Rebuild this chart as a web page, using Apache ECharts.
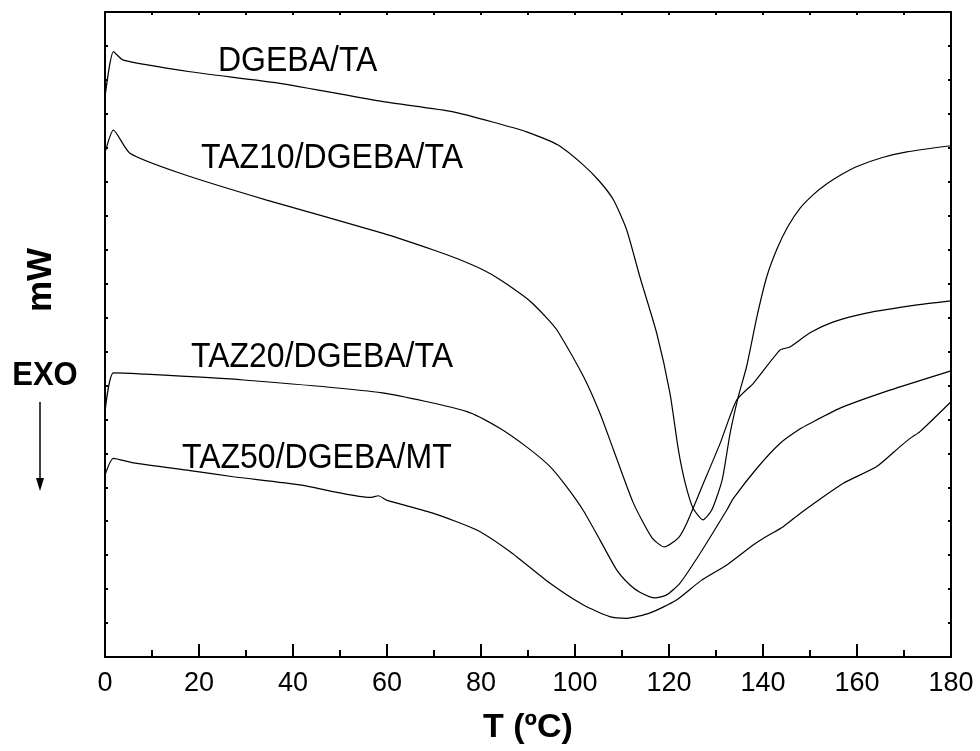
<!DOCTYPE html>
<html>
<head>
<meta charset="utf-8">
<script src="https://cdn.jsdelivr.net/npm/echarts@6/dist/echarts.min.js"></script>
<style>
  html, body { margin: 0; padding: 0; background: #fff; }
  #chartBox { width: 980px; height: 751px; }
</style>
</head>
<body>
<div id="chartBox"></div>
<script>
// DSC curves, [T (ºC), signal]
const dgebaTA = [
  [0, 16.49], [1.8, 17.83], [3.9, 17.58], [18.1, 17.24], [37.2, 16.90], [59.2, 16.36],
  [74.1, 16.06], [84, 15.70], [89.7, 15.47], [96.4, 15.08], [101.8, 14.49],
  [105.3, 14.00], [108.2, 13.46], [111, 12.58], [113.8, 11.20], [117.4, 9.53], [120.2, 7.77],
  [122, 6.10], [123.4, 5.15], [125.1, 4.39], [127.2, 4.04], [129.1, 4.33], [131.3, 5.21],
  [133, 6.59], [134.8, 7.70], [136.5, 8.55], [138.7, 10.02], [140.8, 11.20], [143.1, 12.06],
  [145.3, 12.68], [147.9, 13.22], [150.7, 13.62], [153.6, 13.94], [156.8, 14.22], [160, 14.45],
  [165.6, 14.72], [170.6, 14.88], [180, 15.06]
]
const taz10 = [
  [0, 14.85], [1.8, 15.52], [5.3, 14.84], [16, 14.25], [34.4, 13.46], [59.2, 12.48],
  [69.9, 11.99], [75, 11.73], [80.5, 11.40], [84, 11.12], [89, 10.64], [91.1, 10.40],
  [94.7, 9.88], [96.4, 9.58], [101.8, 8.26], [105.3, 7.18], [108.2, 6.10], [112.4, 4.54],
  [116.4, 3.51], [119, 3.24], [122, 3.51], [123.8, 3.95], [127, 5.01], [130.9, 6.30],
  [134.4, 7.57], [138, 8.07], [143.6, 9.04], [145.7, 9.13], [150, 9.55], [155, 9.87],
  [162, 10.13], [172.8, 10.37], [180, 10.49]
]
const taz20 = [
  [0, 7.22], [1.8, 8.37], [7.4, 8.34], [29.4, 8.16], [59, 7.78], [77, 7.23],
  [84, 6.74], [89.7, 6.19], [94.7, 5.61], [98.2, 5.02], [101.7, 4.33], [105.3, 3.45],
  [108.9, 2.56], [111.7, 2.12], [113.8, 1.91], [117, 1.74], [119.5, 1.83], [122.3, 2.17],
  [126.6, 3.05], [132.3, 4.33], [133.7, 4.67], [138.7, 5.56], [143.6, 6.29], [147.9, 6.72],
  [150, 6.88], [156.4, 7.33], [167, 7.86], [180, 8.43]
]
const taz50 = [
  [0, 5.36], [1.8, 5.85], [6, 5.72], [18.1, 5.49], [27.3, 5.31], [41.5, 5.07],
  [56.4, 4.70], [58.2, 4.75], [59.9, 4.62], [69.9, 4.23], [79.1, 3.74], [86.2, 3.10],
  [94.7, 2.17], [101.8, 1.53], [107.4, 1.19], [111, 1.14], [116, 1.30], [121.6, 1.68],
  [126.8, 2.25], [132.3, 2.71], [137.9, 3.30], [140.1, 3.50], [144.3, 3.84], [147.9, 4.23],
  [152.1, 4.65], [157.1, 5.12], [164.2, 5.61], [169.1, 6.19], [171.3, 6.44], [173.4, 6.64],
  [180, 7.52]
]
const seriesNames = ['DGEBA/TA', 'TAZ10/DGEBA/TA', 'TAZ20/DGEBA/TA', 'TAZ50/DGEBA/MT']
const seriesData = [dgebaTA, taz10, taz20, taz50]

const font = '"Liberation Sans", Arial, sans-serif'
const frame = { show: true, onZero: false, lineStyle: { color: '#000', width: 2 } }
// where each curve name sits (left edge, vertical centre)
const labelPos = [[218, 61], [201, 158], [191, 357], [182, 458]]

let myChart = echarts.init(document.getElementById('chartBox'))
myChart.setOption({
  animation: false,
  grid: { left: 105, right: 29, top: 12, bottom: 94 },
  xAxis: [
    {
      type: 'value',
      min: 0,
      max: 180,
      interval: 20,
      axisLine: frame,
      axisTick: { inside: true, length: 13, lineStyle: { color: '#000', width: 2 } },
      minorTick: { show: true, splitNumber: 2, length: 7, lineStyle: { color: '#000', width: 2 } },
      splitLine: { show: false },
      axisLabel: { color: '#000', fontSize: 27, fontFamily: font, margin: 13 },
      name: 'T (ºC)',
      nameLocation: 'middle',
      nameGap: 54,
      nameTextStyle: { color: '#000', fontSize: 34, fontWeight: 'bold', fontFamily: font }
    },
    {
      type: 'value',
      position: 'top',
      min: 0,
      max: 180,
      interval: 10,
      axisLine: frame,
      axisTick: { inside: true, length: 3, lineStyle: { color: '#000', width: 2 } },
      axisLabel: { show: false },
      splitLine: { show: false }
    }
  ],
  yAxis: [
    {
      type: 'value',
      min: 0,
      max: 19,
      interval: 1,
      axisLine: frame,
      axisTick: { inside: true, length: 3, lineStyle: { color: '#000', width: 2 } },
      axisLabel: { show: false },
      splitLine: { show: false }
    },
    {
      type: 'value',
      position: 'right',
      min: 0,
      max: 19,
      interval: 1,
      axisLine: frame,
      axisTick: { inside: true, length: 3, lineStyle: { color: '#000', width: 2 } },
      axisLabel: { show: false },
      splitLine: { show: false }
    }
  ],
  graphic: seriesNames.map((name, i) => ({
    type: 'text',
    x: labelPos[i][0],
    y: labelPos[i][1],
    scaleY: 1.08,
    style: { text: name, fontSize: 32, fontFamily: font, fill: '#000', verticalAlign: 'middle' }
  })).concat([
    {
      type: 'text', x: 41, y: 280, rotation: Math.PI / 2,
      style: { text: 'mW', fontSize: 35, fontWeight: 'bold', fontFamily: font, fill: '#000', align: 'center', verticalAlign: 'middle' }
    },
    {
      type: 'text', x: 45, y: 376, scaleY: 1.08,
      style: { text: 'EXO', fontSize: 31, fontWeight: 'bold', fontFamily: font, fill: '#000', align: 'center', verticalAlign: 'middle' }
    },
    { type: 'line', shape: { x1: 40, y1: 402, x2: 40, y2: 482 }, style: { stroke: '#000', lineWidth: 1.5 } },
    { type: 'polygon', shape: { points: [[36, 478], [44, 478], [40, 491]] }, style: { fill: '#000' } }
  ]),
  series: seriesData.map((d, i) => ({
    name: seriesNames[i],
    type: 'line',
    data: d,
    smooth: 0.2,
    showSymbol: false,
    lineStyle: { color: '#000', width: 1.2 }
  }))
})
</script>
</body>
</html>
